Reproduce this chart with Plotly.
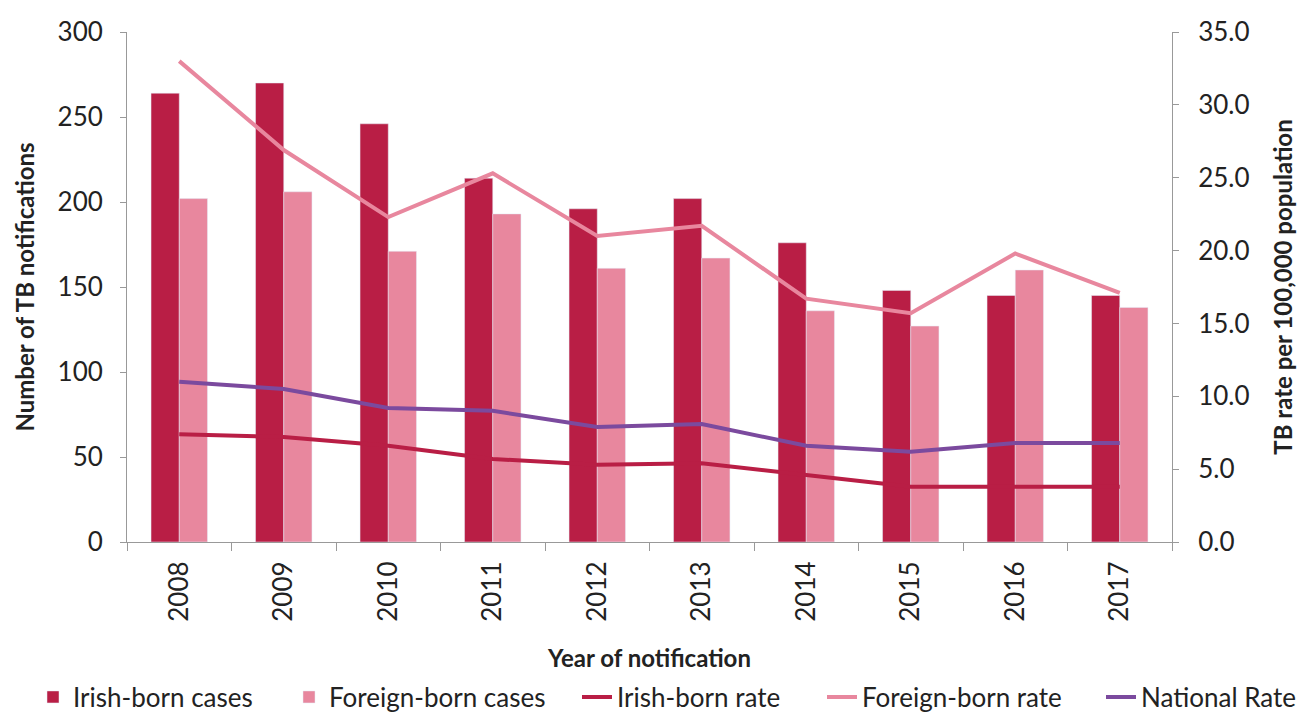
import plotly.graph_objects as go

years = ["2008", "2009", "2010", "2011", "2012", "2013", "2014", "2015", "2016", "2017"]
irish_cases = [264, 270, 246, 214, 196, 202, 176, 148, 145, 145]
foreign_cases = [202, 206, 171, 193, 161, 167, 136, 127, 160, 138]
irish_rate = [7.4, 7.2, 6.6, 5.7, 5.3, 5.4, 4.6, 3.8, 3.8, 3.8]
foreign_rate = [33.0, 26.9, 22.3, 25.3, 21.0, 21.7, 16.7, 15.7, 19.8, 17.1]
national_rate = [11.0, 10.5, 9.2, 9.0, 7.9, 8.1, 6.6, 6.2, 6.8, 6.8]

c_irish = "#B91E45"
c_foreign = "#E8879E"
c_nat = "#7B4A9E"
font = "Lato"

fig = go.Figure()
fig.add_trace(go.Bar(x=years, y=irish_cases, name="Irish-born cases", marker_color=c_irish,
                     legend="legend", showlegend=True))
fig.add_trace(go.Bar(x=years, y=foreign_cases, name="Foreign-born cases", marker_color=c_foreign,
                     legend="legend2", showlegend=True))
fig.add_trace(go.Scatter(x=years, y=irish_rate, name="Irish-born rate", mode="lines",
                         line=dict(color=c_irish, width=4), yaxis="y2", legend="legend3",
                         showlegend=True))
fig.add_trace(go.Scatter(x=years, y=foreign_rate, name="Foreign-born rate", mode="lines",
                         line=dict(color=c_foreign, width=4), yaxis="y2", legend="legend4",
                         showlegend=True))
fig.add_trace(go.Scatter(x=years, y=national_rate, name="National Rate", mode="lines",
                         line=dict(color=c_nat, width=4), yaxis="y2", legend="legend5",
                         showlegend=True))

L, R, T, B = 127, 135, 32, 171
plot_w = 1307 - L - R

def leg(px):
    return dict(orientation="h", x=(px - L) / plot_w, xanchor="left", y=-0.304, yanchor="middle",
                font=dict(size=26), itemwidth=30, bgcolor="rgba(0,0,0,0)")

fig.update_layout(
    width=1307, height=713,
    showlegend=True,
    margin=dict(l=L, r=R, t=T, b=B, autoexpand=False),
    plot_bgcolor="white", paper_bgcolor="white",
    font=dict(family=font, size=24, color="#222"),
    barmode="group", bargap=0.46, bargroupgap=0,
    xaxis=dict(type="category", tickangle=-90, showline=True, linecolor="#999", linewidth=1,
               ticks="outside", ticklen=8, tickcolor="#999", tickson="boundaries",
               automargin=False, ticklabelstandoff=8,
               title=dict(text="<b>Year of notification</b>", font=dict(size=24), standoff=29),
               tickfont=dict(size=26)),
    yaxis=dict(range=[0, 300], dtick=50, showgrid=False, showline=True, linecolor="#999",
               ticks="outside", ticklen=6, tickcolor="#999", zeroline=False, automargin=False,
               ticklabelstandoff=12,
               title=dict(text="<b>Number of TB notifications</b>", font=dict(size=24), standoff=16),
               tickfont=dict(size=26)),
    yaxis2=dict(range=[0, 35], dtick=5, tickformat=".1f", overlaying="y", side="right",
                showgrid=False, showline=True, linecolor="#999", ticks="outside", ticklen=6,
                tickcolor="#999", zeroline=False, automargin=False, ticklabelstandoff=14,
                title=dict(text="<b>TB rate per 100,000 population</b>", font=dict(size=24), standoff=26),
                tickfont=dict(size=26)),
    legend=leg(33),
    legend2=leg(289),
    legend3=leg(577),
    legend4=leg(822),
    legend5=leg(1101),
)

fig.write_html("out.html", config={"displayModeBar": False},
               post_script="document.body.style.margin='0';document.body.style.overflow='hidden';")
